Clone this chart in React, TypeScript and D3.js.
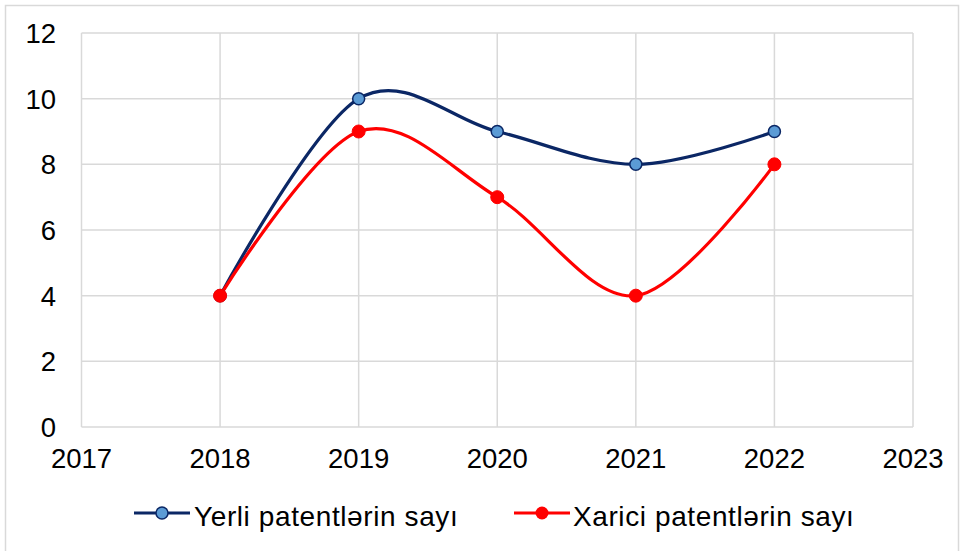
import React from "react";
import * as d3 from "d3";

const years = [2018, 2019, 2020, 2021, 2022];
const yerli = [4, 10, 9, 8, 9];
const xarici = [4, 9, 7, 4, 8];
const xTicks = [2017, 2018, 2019, 2020, 2021, 2022, 2023];
const yTicks = [0, 2, 4, 6, 8, 10, 12];
const seriesNames = ["Yerli patentlərin sayı", "Xarici patentlərin sayı"];

const W = 964;
const H = 551;
const font = "'Liberation Sans', Arial, sans-serif";

export default function App() {
  const x = d3.scaleLinear().domain([2017, 2023]).range([81.5, 913]);
  const y = d3.scaleLinear().domain([0, 12]).range([427, 33]);
  const line = d3
    .line<number>()
    .x((_, i) => x(years[i]))
    .y((d) => y(d))
    .curve(d3.curveCardinal.tension(0));

  const blueLine = "#0B2765";
  const blueFill = "#5B9BD5";
  const red = "#FF0000";

  return (
    <svg width={W} height={H} style={{ position: "absolute", left: 0, top: 0 }}>
      <rect x={0} y={0} width={W} height={H} fill="#fff" />
      <rect x={5.5} y={5.5} width={953} height={560} fill="#fff" stroke="#d9d9d9" strokeWidth={1.5} />
      {yTicks.map((t) => (
        <line key={"gy" + t} x1={x(2017)} x2={x(2023)} y1={y(t)} y2={y(t)} stroke="#d9d9d9" strokeWidth={1.5} />
      ))}
      {xTicks.map((t) => (
        <line key={"gx" + t} x1={x(t)} x2={x(t)} y1={y(0)} y2={y(12)} stroke="#d9d9d9" strokeWidth={1.5} />
      ))}
      {yTicks.map((t) => (
        <text key={"ly" + t} x={56} y={y(t)} dy="0.36em" textAnchor="end" fontFamily={font} fontSize={27.5} fill="#000">
          {t}
        </text>
      ))}
      {xTicks.map((t) => (
        <text key={"lx" + t} x={x(t)} y={468} textAnchor="middle" fontFamily={font} fontSize={27.5} fill="#000">
          {t}
        </text>
      ))}
      <path d={line(yerli) || ""} fill="none" stroke={blueLine} strokeWidth={3.2} />
      <path d={line(xarici) || ""} fill="none" stroke={red} strokeWidth={3.2} />
      {yerli.map((v, i) => (
        <circle key={"cb" + i} cx={x(years[i])} cy={y(v)} r={6} fill={blueFill} stroke={blueLine} strokeWidth={1.5} />
      ))}
      {xarici.map((v, i) => (
        <circle key={"cr" + i} cx={x(years[i])} cy={y(v)} r={6.5} fill={red} stroke={red} strokeWidth={1} />
      ))}
      <g>
        <line x1={134} x2={190} y1={513} y2={513} stroke={blueLine} strokeWidth={3.2} />
        <circle cx={162} cy={513} r={6} fill={blueFill} stroke={blueLine} strokeWidth={1.5} />
        <text x={194} y={526} fontFamily={font} fontSize={28} letterSpacing={0.6} fill="#000">{seriesNames[0]}</text>
        <line x1={514} x2={570} y1={513} y2={513} stroke={red} strokeWidth={3.2} />
        <circle cx={542} cy={513} r={6.5} fill={red} />
        <text x={573} y={526} fontFamily={font} fontSize={28} letterSpacing={0.6} fill="#000">{seriesNames[1]}</text>
      </g>
    </svg>
  );
}
